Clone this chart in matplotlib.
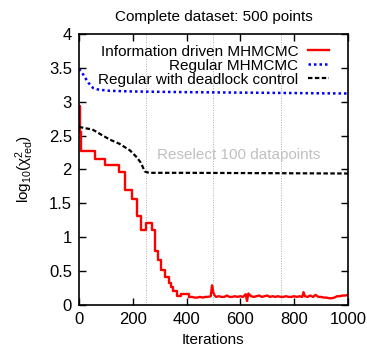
import matplotlib
matplotlib.use("Agg")
import matplotlib.pyplot as plt

plt.rcParams["font.family"] = ["Liberation Sans", "DejaVu Sans"]
plt.rcParams["mathtext.fontset"] = "custom"
plt.rcParams["mathtext.rm"] = "Liberation Sans"
plt.rcParams["mathtext.it"] = "Liberation Sans"

# information driven MHMCMC: step-like descent, then noisy plateau
info_step_iters = [0, 3, 6, 8, 60, 97, 149, 171, 199, 217, 230, 249, 270, 283, 294, 305,
                   320, 335, 343, 350, 364, 380, 410]
info_step_chi2 = [2.93, 2.55, 2.33, 2.27, 2.16, 2.06, 1.96, 1.69, 1.56, 1.32, 1.10, 1.21,
                  1.10, 0.80, 0.67, 0.52, 0.42, 0.32, 0.27, 0.20, 0.13, 0.16, 0.12]
info_tail_iters = [410, 420, 430, 440, 450, 460, 470, 480, 490, 495, 500, 505, 510, 520, 530,
                   540, 550, 560, 570, 580, 590, 600, 610, 620, 625, 630, 640, 650, 660,
                   670, 680, 690, 700, 710, 720, 730, 740, 750, 760, 770, 780, 790, 800,
                   810, 820, 830, 835, 840, 850, 860, 870, 880, 890, 900, 910, 920, 930,
                   940, 950, 960, 970, 980, 990, 1000]
info_tail_chi2 = [0.12, 0.12, 0.11, 0.11, 0.12, 0.11, 0.12, 0.12, 0.13, 0.29, 0.18, 0.14,
                  0.12, 0.13, 0.12, 0.12, 0.14, 0.12, 0.12, 0.13, 0.12, 0.13, 0.12, 0.16,
                  0.06, 0.17, 0.13, 0.12, 0.13, 0.14, 0.12, 0.13, 0.14, 0.12, 0.13, 0.12,
                  0.13, 0.12, 0.12, 0.13, 0.12, 0.12, 0.13, 0.12, 0.13, 0.12, 0.19, 0.13,
                  0.12, 0.14, 0.12, 0.15, 0.12, 0.12, 0.11, 0.11, 0.10, 0.10, 0.11, 0.13,
                  0.13, 0.14, 0.14, 0.15]

# regular MHMCMC
regular_iters = [0, 10, 22, 35, 53, 70, 90, 115, 200, 400, 700, 1000]
regular_chi2 = [3.48, 3.44, 3.36, 3.28, 3.20, 3.18, 3.17, 3.16, 3.15, 3.14, 3.13, 3.12]

# regular with deadlock control
deadlock_iters = [0, 20, 50, 80, 115, 150, 190, 215, 230, 245, 260, 400, 1000]
deadlock_chi2 = [2.63, 2.61, 2.59, 2.52, 2.44, 2.38, 2.28, 2.18, 2.10, 1.97, 1.95, 1.95, 1.94]

reselect_iters = [250, 500, 750]
x_ticks = [0, 200, 400, 600, 800, 1000]
y_ticks = [0, 0.5, 1, 1.5, 2, 2.5, 3, 3.5, 4]
y_tick_labels = ["0", "0.5", "1", "1.5", "2", "2.5", "3", "3.5", "4"]

fig = plt.figure(figsize=(3.67, 3.49), dpi=100)
ax = fig.add_axes([0.215, 0.126, 0.733, 0.777])

for it in reselect_iters:
    ax.axvline(it, color="#b0b0b0", linestyle=(0, (1, 1.5)), linewidth=0.7, zorder=0)

ax.plot(info_step_iters, info_step_chi2, color="red", linewidth=1.7, drawstyle="steps-post",
        label="Information driven MHMCMC")
ax.plot(info_tail_iters, info_tail_chi2, color="red", linewidth=1.7)
ax.plot(regular_iters, regular_chi2, color="blue", linewidth=1.8, linestyle=(0, (1, 1.2)),
        label="Regular MHMCMC")
ax.plot(deadlock_iters, deadlock_chi2, color="black", linewidth=1.6, linestyle=(0, (2, 1.1)),
        label="Regular with deadlock control")

ax.text(595, 2.22, "Reselect 100 datapoints", color="#c0c0c0", fontsize=11,
        ha="center", va="center")

ax.set_xlim(0, 1000)
ax.set_ylim(0, 4)
ax.set_xticks(x_ticks)
ax.set_yticks(y_ticks)
ax.set_yticklabels(y_tick_labels)
ax.tick_params(direction="in", top=True, right=True, length=5, width=1, labelsize=12, pad=5)
for s in ax.spines.values():
    s.set_linewidth(1.2)

ax.set_title("Complete dataset: 500 points", fontsize=11, pad=9)
ax.set_xlabel("Iterations", fontsize=11)
ax.set_ylabel(r"$\mathregular{log_{10}(\chi^2_{red})}$", fontsize=11, labelpad=9)

ax.legend(loc="upper right", markerfirst=False, frameon=False, fontsize=11,
          handlelength=1.4, handletextpad=0.6, labelspacing=0.0,
          borderaxespad=0.4, borderpad=0.3, bbox_to_anchor=(0.97, 1.0))

fig.savefig("out.png", dpi=100)
